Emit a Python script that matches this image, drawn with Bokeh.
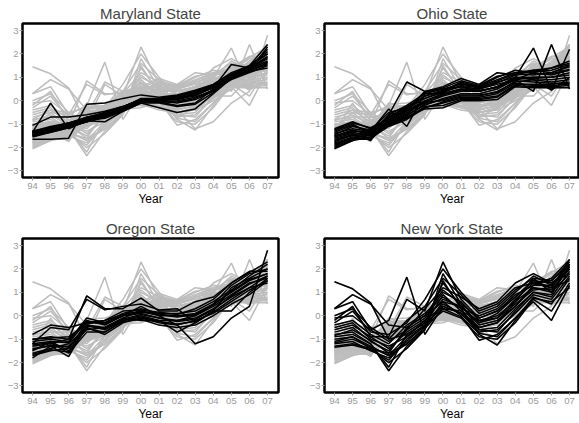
from bokeh.plotting import figure
from bokeh.layouts import column, row
from bokeh.models import FixedTicker, Range1d, ColumnDataSource
from bokeh.embed import file_html
from bokeh.resources import INLINE

years = [1994, 1995, 1996, 1997, 1998, 1999, 2000, 2001, 2002, 2003, 2004, 2005, 2006, 2007]
year_labels = ["94", "95", "96", "97", "98", "99", "00", "01", "02", "03", "04", "05", "06", "07"]
y_ticks = [-3, -2, -1, 0, 1, 2, 3]

maryland = [
    [-1.35, -0.10, -1.20, -0.85, -0.65, -0.35, 0.00, 0.05, 0.10, 0.30, 0.60, 1.05, 1.40, 1.85],
    [-1.65, -1.65, -1.60, -0.15, -0.10, 0.10, 0.25, 0.15, 0.25, 0.45, 0.70, 1.20, 1.50, 2.40],
    [-1.05, -0.70, -0.70, -0.60, -0.45, -0.25, 0.05, 0.10, 0.20, 0.40, 0.65, 1.10, 1.45, 2.00],
    [-1.40, -1.25, -1.05, -0.85, -0.75, -0.45, -0.10, -0.30, -0.50, -0.35, 0.30, 0.95, 1.30, 1.60],
    [-1.45, -1.30, -1.10, -0.90, -0.70, -0.40, -0.05, -0.05, -0.20, -0.10, 0.50, 1.00, 1.25, 1.40],
    [-1.30, -1.15, -0.95, -0.75, -0.50, -0.25, 0.05, 0.05, 0.10, 0.20, 0.60, 1.10, 1.35, 1.70],
    [-1.50, -1.30, -1.10, -0.90, -0.65, -0.35, 0.00, 0.00, 0.05, 0.25, 0.55, 1.55, 1.40, 2.20],
    [-1.40, -1.20, -1.00, -0.80, -0.55, -0.30, 0.10, 0.10, 0.15, 0.35, 0.65, 1.05, 1.50, 2.00],
    [-1.35, -1.20, -1.00, -0.70, -0.60, -0.30, 0.00, -0.05, 0.00, 0.15, 0.45, 0.90, 1.20, 1.50],
    [-1.45, -1.25, -1.05, -0.80, -0.70, -0.40, -0.05, 0.00, -0.10, 0.05, 0.40, 0.95, 1.35, 1.80],
    [-1.30, -1.10, -0.95, -0.85, -0.90, -0.45, -0.10, -0.10, -0.25, -0.15, 0.35, 1.00, 1.30, 2.30],
    [-1.55, -1.35, -1.15, -0.85, -0.60, -0.30, 0.05, 0.05, 0.05, 0.25, 0.55, 1.00, 1.30, 1.55],
    [-1.40, -1.25, -1.05, -0.80, -0.60, -0.30, 0.05, 0.05, 0.10, 0.30, 0.60, 1.00, 1.40, 1.90],
    [-1.50, -1.35, -1.15, -0.90, -0.70, -0.40, 0.00, -0.05, -0.05, 0.10, 0.45, 0.95, 1.25, 1.65],
    [-1.35, -1.15, -0.95, -0.70, -0.50, -0.25, 0.05, 0.10, 0.20, 0.40, 0.70, 1.15, 1.50, 2.10],
]

ohio = [
    [-1.20, -0.90, -1.20, -0.80, -0.40, 0.40, 0.60, 0.95, 0.70, 1.20, 1.10, 1.30, 1.40, 1.70],
    [-2.05, -1.70, -1.30, -1.00, -0.70, -0.35, -0.30, 0.00, 0.00, 0.05, 0.60, 0.55, 0.55, 0.55],
    [-1.60, -1.40, -1.70, -0.60, 0.80, 0.40, 0.50, 0.60, 0.40, 0.60, 0.90, 1.20, 1.10, 1.30],
    [-1.50, -1.30, -1.30, -0.35, -1.10, 0.30, 0.30, 0.50, 0.50, 0.70, 0.90, 1.00, 1.00, 1.20],
    [-1.70, -1.50, -1.40, -0.90, -0.50, -0.10, 0.20, 0.40, 0.40, 0.60, 1.00, 2.25, 0.45, 1.00],
    [-1.80, -1.55, -1.50, -1.00, -0.60, -0.20, 0.10, 0.30, 0.30, 0.50, 0.90, 0.40, 2.40, 0.50],
    [-1.40, -1.20, -1.30, -0.70, -0.30, 0.10, 0.40, 0.60, 0.50, 0.80, 1.00, 0.90, 0.45, 2.20],
    [-1.30, -1.00, -1.40, -0.60, -0.20, 0.30, 0.50, 0.70, 0.60, 0.90, 1.20, 1.30, 1.20, 1.50],
    [-1.90, -1.60, -1.60, -1.10, -0.80, -0.30, -0.10, 0.10, 0.10, 0.20, 0.70, 0.70, 0.70, 0.80],
    [-1.55, -1.35, -1.50, -0.80, -0.40, 0.00, 0.30, 0.50, 0.40, 0.60, 1.00, 1.00, 1.00, 1.10],
    [-1.75, -1.45, -1.30, -0.95, -0.55, -0.05, 0.00, 0.20, 0.20, 0.40, 0.80, 0.90, 0.80, 0.90],
    [-1.45, -1.10, -1.25, -0.50, -0.30, 0.20, 0.40, 0.80, 0.60, 1.00, 1.30, 1.20, 1.40, 1.60],
    [-2.00, -1.70, -1.55, -1.05, -0.75, -0.25, -0.20, 0.05, 0.05, 0.15, 0.65, 0.60, 0.60, 0.65],
    [-1.35, -1.05, -1.35, -0.70, -0.25, 0.20, 0.45, 0.75, 0.55, 0.85, 1.15, 1.10, 1.20, 1.45],
    [-1.25, -0.95, -1.15, -0.75, -0.35, 0.35, 0.55, 0.85, 0.65, 1.05, 1.20, 1.25, 1.30, 1.55],
    [-1.65, -1.45, -1.60, -0.85, -0.45, -0.05, 0.25, 0.45, 0.45, 0.55, 0.95, 0.95, 0.90, 1.00],
    [-1.85, -1.60, -1.45, -1.05, -0.65, -0.15, 0.05, 0.25, 0.25, 0.35, 0.85, 0.80, 0.75, 0.75],
    [-1.95, -1.65, -1.65, -0.95, -0.70, -0.30, -0.05, 0.15, 0.15, 0.30, 0.75, 0.65, 0.65, 0.70],
    [-1.50, -1.25, -1.45, -0.65, -0.35, 0.10, 0.35, 0.65, 0.55, 0.75, 1.10, 1.15, 1.15, 1.35],
]

oregon = [
    [-0.80, -0.40, -0.50, -0.30, -0.20, 0.05, 0.20, 0.05, 0.00, 0.10, 0.50, 1.00, 1.50, 1.80],
    [-1.00, -0.90, -1.00, 0.85, 0.30, 0.30, 0.75, 0.20, 0.20, 0.60, 0.80, 1.40, 1.90, 1.90],
    [-1.20, -0.50, -0.60, 0.70, 0.25, 0.40, 0.50, 0.25, 0.30, -0.30, 0.20, 1.20, 1.60, 2.00],
    [-1.80, -1.30, -1.75, -0.40, -0.50, -0.10, 0.20, 0.00, -0.40, -1.20, -0.90, -0.10, 0.40, 2.80],
    [-1.50, -1.10, -1.50, -0.40, -0.60, -0.20, 0.00, -0.20, -0.70, -0.30, 0.20, 0.20, 1.00, 1.60],
    [-1.30, -1.20, -1.00, -0.20, -0.40, 0.00, 0.10, -0.10, -0.20, 0.00, 0.40, 0.90, 1.40, 1.60],
    [-1.60, -1.40, -1.20, -0.50, -0.80, -0.30, -0.10, -0.30, -0.40, -0.20, 0.10, 0.60, 1.10, 1.50],
    [-1.10, -1.00, -1.10, -0.10, -0.30, 0.10, 0.30, 0.10, 0.10, 0.20, 0.60, 1.10, 1.70, 2.20],
    [-1.40, -1.30, -1.30, -0.60, -0.50, -0.10, -0.20, -0.20, -0.20, -0.10, 0.30, 0.80, 1.20, 1.40],
    [-1.70, -1.50, -1.40, -0.30, -0.30, 0.00, 0.40, 0.00, 0.00, 0.00, 0.50, 1.30, 1.80, 2.00],
    [-1.25, -1.15, -1.60, -0.70, -0.70, -0.25, -0.15, -0.40, -0.50, -0.40, 0.00, 0.50, 0.90, 1.50],
    [-1.00, -0.95, -0.90, -0.35, -0.20, 0.20, 0.25, 0.15, 0.05, 0.30, 0.70, 1.40, 1.85, 2.30],
    [-1.45, -1.25, -1.35, -0.45, -0.55, -0.15, 0.05, -0.10, -0.25, -0.15, 0.25, 0.85, 1.35, 1.70],
    [-1.20, -1.10, -1.15, -0.25, -0.35, 0.00, 0.15, 0.05, -0.05, 0.05, 0.45, 1.05, 1.55, 1.80],
    [-1.65, -1.45, -1.55, -0.55, -0.70, -0.20, -0.05, -0.25, -0.35, -0.25, 0.15, 0.70, 1.20, 1.70],
]

new_york = [
    [1.45, 1.15, 0.55, -1.00, -0.80, -0.30, 0.30, 0.20, -0.20, -0.10, 0.50, 1.10, 1.20, 1.50],
    [0.30, 0.90, 0.50, -0.40, -0.50, 0.00, 0.60, 0.40, -0.30, 0.10, 0.80, 1.50, 1.40, 2.00],
    [0.30, 0.60, -0.60, -0.20, 1.65, -0.80, 0.40, 0.10, -0.50, -0.30, 0.60, 1.20, 1.00, 1.80],
    [-0.20, 0.40, -0.90, -0.90, 0.70, 0.20, 2.30, 0.70, -0.10, 0.20, 0.80, 1.50, 1.20, 2.40],
    [-0.80, -0.70, -1.20, -2.35, -1.30, -0.60, 1.80, 0.50, -0.60, -0.50, 0.30, 1.00, 0.90, 2.20],
    [-1.00, -0.90, -1.40, -2.00, -1.40, -0.60, 1.50, 0.30, -0.80, -1.25, -0.20, 0.80, 0.50, 1.60],
    [-0.50, -0.30, -1.00, -1.30, -0.90, -0.40, 0.90, 0.20, -0.50, -0.30, 0.40, 1.30, 1.60, 2.40],
    [-1.30, -1.20, -1.40, -1.60, -1.20, -0.50, 0.60, 0.00, -1.05, -0.80, -0.10, 0.60, -0.20, 1.30],
    [-0.10, 0.00, -0.60, -1.10, -0.60, 0.30, 1.20, 0.80, 0.30, 0.60, 1.40, 1.80, 1.40, 1.80],
    [-1.10, -0.90, -1.30, -1.70, -0.90, -0.20, 0.40, 0.10, -0.60, -0.70, 0.20, 1.00, 0.80, 1.90],
    [-0.70, -0.50, -1.10, -1.50, -0.60, -0.10, 1.00, 0.60, -0.20, 0.00, 0.60, 1.60, 1.00, 2.10],
    [-0.40, -0.20, -0.80, -1.20, -0.40, 0.10, 0.80, 0.30, 0.00, 0.30, 1.00, 1.70, 1.30, 2.20],
    [-1.20, -1.10, -1.50, -1.80, -1.10, -0.40, 0.20, -0.10, -0.90, -1.00, -0.30, 0.70, 0.20, 1.40],
    [-0.90, -0.80, -1.20, -2.20, -0.80, -0.30, 1.40, 0.40, -0.40, -0.20, 0.40, 1.20, 1.10, 2.00],
    [-0.30, 0.20, -0.70, -0.80, -0.30, 0.70, 2.00, 1.00, 0.20, 0.50, 1.20, 1.40, 1.50, 2.30],
    [-0.60, -0.40, -0.90, -1.40, -0.70, -0.20, 0.70, 0.40, -0.30, -0.10, 0.70, 1.40, 1.20, 2.10],
    [-1.35, -1.25, -1.45, -1.90, -1.00, -0.45, 0.50, 0.10, -0.70, -0.60, 0.10, 0.90, 0.70, 1.70],
    [-0.85, -0.60, -1.05, -1.60, -0.50, 0.00, 1.10, 0.50, -0.10, 0.20, 0.90, 1.30, 1.30, 2.00],
    [0.00, 0.30, -0.50, -1.00, -0.20, 0.40, 1.60, 0.90, 0.10, 0.40, 1.10, 1.60, 1.50, 2.20],
    [-1.15, -1.00, -1.35, -1.70, -1.20, -0.55, 0.30, -0.05, -0.75, -0.90, -0.10, 0.75, 0.60, 1.20],
]

states = [("Maryland State", maryland), ("Ohio State", ohio),
          ("Oregon State", oregon), ("New York State", new_york)]
all_lines = maryland + ohio + oregon + new_york

FONT = "Liberation Sans"
TICK_GRAY = "#9a9a9a"


def make_panel(title, lines, left_col, top_row):
    x0 = 1993.447
    if left_col:
        width, x1, b_left, b_right = 306, 2007.605, 22, 28
    else:
        width, x1, b_left, b_right = 273, 2007.55, 18, 0
    if top_row:
        height, b_bottom = 215, 38
    else:
        height, b_bottom = 208, 31
    p = figure(width=width, height=height, title=title,
               x_range=Range1d(x0, x1), y_range=Range1d(-3.28, 3.30),
               output_backend="svg", toolbar_location=None,
               min_border_left=b_left, min_border_right=b_right,
               min_border_top=23, min_border_bottom=b_bottom)
    p.title.text_font = FONT
    p.title.text_font_size = "15px"
    p.title.text_font_style = "normal"
    p.title.text_line_height = 0.8
    p.title.align = "center"
    p.title.standoff = 3
    p.title.offset = 0

    gray = ColumnDataSource(dict(xs=[years] * len(all_lines), ys=all_lines))
    black = ColumnDataSource(dict(xs=[years] * len(lines), ys=lines))
    p.multi_line("xs", "ys", source=gray, line_color="#bdbdbd", line_width=1.5)
    p.multi_line("xs", "ys", source=black, line_color="black", line_width=1.5)

    p.xgrid.visible = False
    p.ygrid.visible = False
    p.outline_line_color = "black"
    p.outline_line_width = 2.5
    p.background_fill_color = "white"
    p.border_fill_color = "white"

    p.xaxis.ticker = FixedTicker(ticks=years)
    p.xaxis.major_label_overrides = {y: lab for y, lab in zip(years, year_labels)}
    p.yaxis.ticker = FixedTicker(ticks=y_ticks)
    for ax in (p.xaxis[0], p.yaxis[0]):
        ax.axis_line_color = None
        ax.major_tick_line_color = TICK_GRAY
        ax.major_tick_out = 3
        ax.major_tick_in = 0
        ax.minor_tick_line_color = None
        ax.major_label_text_color = TICK_GRAY
        ax.major_label_text_font = FONT
        ax.major_label_text_font_size = "9.5px"
        ax.major_label_standoff = 2
    p.yaxis.major_label_standoff = 1
    p.xaxis.axis_label = "Year"
    p.xaxis.axis_label_text_font = FONT
    p.xaxis.axis_label_text_font_size = "12px"
    p.xaxis.axis_label_text_font_style = "normal"
    p.xaxis.axis_label_text_color = "black"
    p.xaxis.axis_label_standoff = 0
    return p


panels = []
for i, (title, lines) in enumerate(states):
    panels.append(make_panel(title, lines, left_col=(i % 2 == 0), top_row=(i < 2)))

layout = column(row(panels[0], panels[1]), row(panels[2], panels[3]))
open("out.html", "w").write(file_html(layout, INLINE))
